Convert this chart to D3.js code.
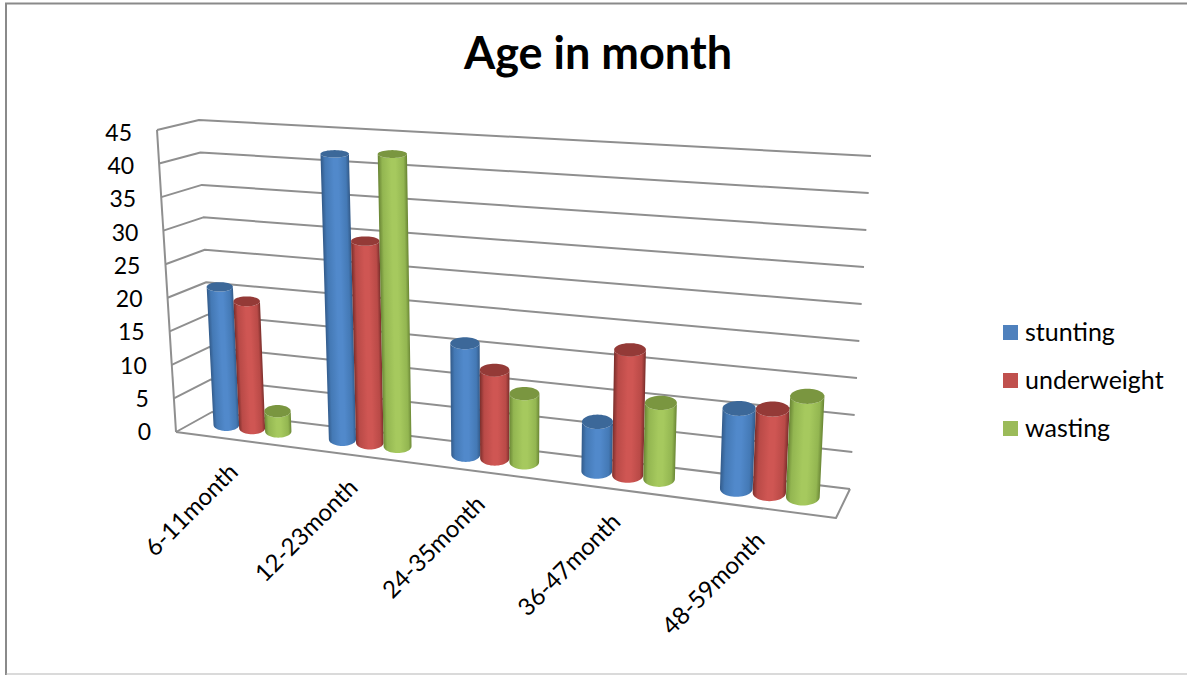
<!DOCTYPE html>
<html>
<head>
<meta charset="utf-8">
<title>Age in month</title>
<script src="https://d3js.org/d3.v7.min.js"></script>
<style>
    body { margin: 0; background: #fff; }
    svg { display: block; }
    text { font-family: Lato, "Open Sans", sans-serif; fill: #000; }
</style>
</head>
<body>
<div id="chart"></div>
<script>
/***DATA***/
const categories = ["6-11month", "12-23month", "24-35month", "36-47month", "48-59month"];
const seriesNames = ["stunting", "underweight", "wasting"];
const stunting = [20.8, 42, 16, 6.9, 10.9];
const underweight = [19, 29.5, 12.6, 17.4, 11.3];
const wasting = [3, 42.5, 9.7, 10.5, 13.5];
const tickLabels = [0, 5, 10, 15, 20, 25, 30, 35, 40, 45];

const seriesValues = [stunting, underweight, wasting];
const legendColors = ["#4f81bd", "#c0504d", "#9bbb59"];
const topColors = ["#3c6899", "#943a37", "#7a9640"];
// edge, mid, centre shades of each cylinder wall
const wallColors = [
    ["#335b8a", "#4479b5", "#5189cb"],
    ["#7b2e2b", "#b94a47", "#cf5653"],
    ["#6a8635", "#93b651", "#a6c95e"]
];

const width = 1187;
const height = 675;

/***PROJECTION***/
// corners of the chart box on screen: f/b front/back, l/r left/right, 0/1 floor/top
const box = {
    fl0: [176, 432], fr0: [836, 518], bl0: [212, 412], br0: [850, 489],
    fl1: [157, 130], fr1: [848, 174], bl1: [199, 120], br1: [871, 156]
};
const perspective = 1.167;
const barDepth = 0.3;
const barPlane = 0.55;

function mix(a, b, t) {
    return [a[0] + (b[0] - a[0]) * t, a[1] + (b[1] - a[1]) * t];
}

// u along the categories, h up the value axis, z into the depth; all 0..1
function project(u, h, z) {
    const t = u / (u + perspective * (1 - u));
    const floor = mix(mix(box.fl0, box.fr0, t), mix(box.bl0, box.br0, t), z);
    const top = mix(mix(box.fl1, box.fr1, t), mix(box.bl1, box.br1, t), z);
    return mix(floor, top, h);
}

/***SCALES***/
const y = d3.scaleLinear().domain([0, 45]).range([0, 1]);
const x0 = d3.scaleBand().domain(categories).range([0, 1]);
const x1 = d3.scaleBand().domain(seriesNames).range([0, x0.bandwidth()]).paddingOuter(0.7);

const svg = d3.select("#chart").append("svg")
    .attr("width", width)
    .attr("height", height);
const defs = svg.append("defs");

/***FRAME***/
svg.append("path")
    .attr("d", "M1187,3.5H6V675")
    .attr("fill", "none")
    .attr("stroke", "#8a8a8a")
    .attr("stroke-width", 2);
svg.append("line")
    .attr("x1", 6).attr("x2", 1187).attr("y1", 674).attr("y2", 674)
    .attr("stroke", "#b5b5b5")
    .attr("stroke-width", 1);

/***TITLE***/
svg.append("text")
    .attr("x", 598)
    .attr("y", 69)
    .attr("text-anchor", "middle")
    .attr("font-size", 45)
    .attr("font-weight", 700)
    .text("Age in month");

/***GRID***/
const lineGen = d3.line();
const gridColor = "#8f8f8f";

function gridPath(points) {
    svg.append("path")
        .attr("d", lineGen(points))
        .attr("fill", "none")
        .attr("stroke", gridColor)
        .attr("stroke-width", 2)
        .attr("stroke-linejoin", "round");
}

tickLabels.forEach(function (v) {
    const h = y(v);
    gridPath([project(0, h, 0), project(0, h, 1), project(1, h, 1)]);
});
gridPath([project(0, 0, 0), project(0, 1, 0)]);
gridPath([project(0, 0, 0), project(1, 0, 0), project(1, 0, 1)]);

/***CYLINDERS***/
// flat ellipse of a bar at height h, seen from the camera
function ring(u, r, h, steps, from, to) {
    const c = project(u, h, barPlane);
    const rx = (project(u + r, h, barPlane)[0] - project(u - r, h, barPlane)[0]) / 2;
    const ry = (project(u, h, barPlane - barDepth)[1] - project(u, h, barPlane + barDepth)[1]) / 2;
    return d3.range(steps + 1).map(function (i) {
        const a = from + (to - from) * i / steps;
        return [c[0] + rx * Math.cos(a), c[1] + ry * Math.sin(a)];
    });
}

function wallGradient(id, s, u, r, h) {
    const base = project(u, 0, barPlane);
    const head = project(u, h, barPlane);
    const mid = mix(base, head, 0.5);
    const ax = head[0] - base[0];
    const ay = head[1] - base[1];
    const len = Math.sqrt(ax * ax + ay * ay) || 1;
    const half = (project(u + r, h / 2, barPlane)[0] - project(u - r, h / 2, barPlane)[0]) / 2;
    const c = wallColors[s];
    const grad = defs.append("linearGradient")
        .attr("id", id)
        .attr("gradientUnits", "userSpaceOnUse")
        .attr("x1", mid[0] + ay / len * half)
        .attr("y1", mid[1] - ax / len * half)
        .attr("x2", mid[0] - ay / len * half)
        .attr("y2", mid[1] + ax / len * half);
    [[0, c[0]], [0.14, c[1]], [0.45, c[2]], [0.6, c[2]], [0.88, c[1]], [1, c[0]]].forEach(function (st) {
        grad.append("stop").attr("offset", st[0]).attr("stop-color", st[1]);
    });
}

categories.forEach(function (cat, c) {
    seriesNames.forEach(function (name, s) {
        const g = svg.append("g").attr("class", "bar " + name);
        const r = x1.step() / 2;
        const u = x0(cat) + x1(name) + x1.bandwidth() / 2;
        const h = y(seriesValues[s][c]);
        const id = "wall-" + c + "-" + s;
        const front = ring(u, r, 0, 24, Math.PI, 0);
        const back = ring(u, r, h, 24, 0, Math.PI);

        wallGradient(id, s, u, r, h);
        g.append("path")
            .attr("d", lineGen(front.concat(back)) + "Z")
            .attr("fill", "url(#" + id + ")");
        g.append("path")
            .attr("d", lineGen(ring(u, r, h, 48, 0, 2 * Math.PI)) + "Z")
            .attr("fill", topColors[s]);
    });
});

/***AXIS LABELS***/
svg.selectAll("text.tick")
    .data(tickLabels)
    .enter().append("text")
    .attr("class", "tick")
    .attr("font-size", 23)
    .attr("text-anchor", "end")
    .attr("x", function (d) { return project(0, y(d), 0)[0] - 25; })
    .attr("y", function (d) { return project(0, y(d), 0)[1] + 8 + 3 * y(d); })
    .text(function (d) { return d; });

svg.selectAll("text.cat")
    .data(categories)
    .enter().append("text")
    .attr("class", "cat")
    .attr("font-size", 24)
    .attr("text-anchor", "end")
    .attr("transform", function (d) {
        const p = project(x0(d) + x0.bandwidth() / 2, 0, 0);
        return "translate(" + [p[0] + 6, p[1] + 34] + ") rotate(-45)";
    })
    .text(function (d) { return d; });

/***LEGEND***/
const legend = d3.scalePoint().domain(seriesNames).range([332.5, 428.5]);
seriesNames.forEach(function (name, i) {
    svg.append("rect")
        .attr("x", 1003)
        .attr("y", legend(name) - 7.5)
        .attr("width", 15)
        .attr("height", 15)
        .attr("fill", legendColors[i]);
    svg.append("text")
        .attr("x", 1025)
        .attr("y", legend(name) + 8)
        .attr("font-size", 25)
        .text(name);
});
</script>
</body>
</html>
